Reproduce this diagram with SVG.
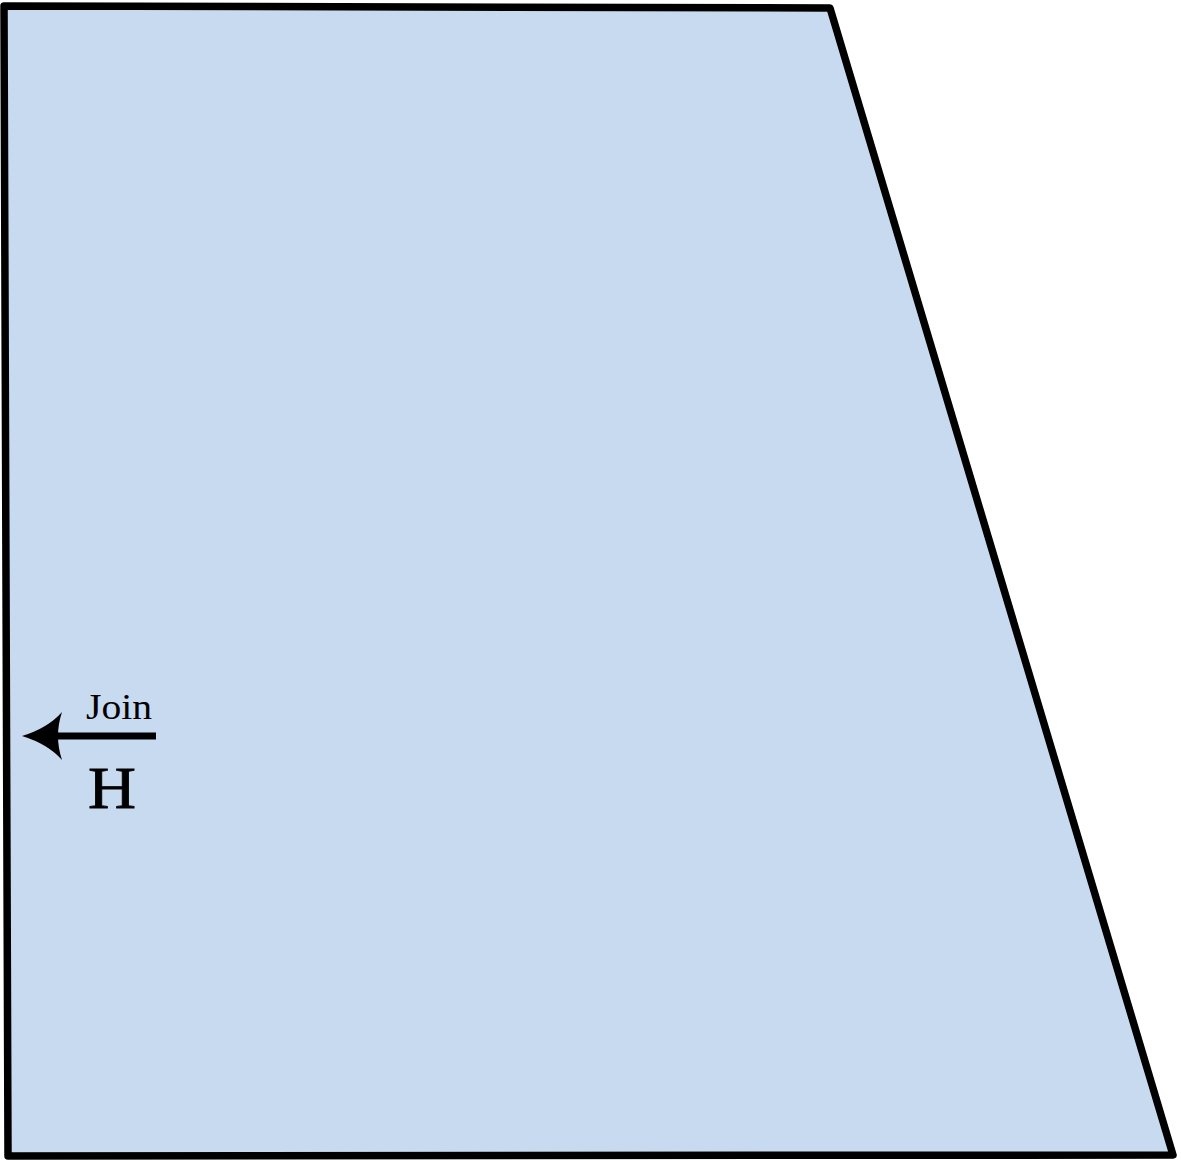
<svg xmlns="http://www.w3.org/2000/svg" width="1181" height="1162" viewBox="0 0 1181 1162">
<style>
.shape{fill:#c7daf0;stroke:#000;stroke-width:7.5;stroke-linejoin:round}
.lbl{font-family:"Liberation Serif","DejaVu Serif",serif;fill:#000;text-anchor:middle}
</style>
<g id="region">
<path class="shape" d="M4,6 L830,8 L1173,1155 L8,1156 Z"/>
</g>
<g id="connectors">
<line x1="156" y1="736" x2="45" y2="736" stroke="#000" stroke-width="7"/>
<path d="M22,736 Q48,728 62,712 Q54,736 62,760 Q48,744 22,736 Z" fill="#000"/>
</g>
<g id="labels">
<text class="lbl" x="119" y="719" font-size="36" textLength="66" lengthAdjust="spacingAndGlyphs">Join</text>
<text class="lbl" x="112" y="808" font-size="60" textLength="48" lengthAdjust="spacingAndGlyphs" stroke="#000" stroke-width="0.8">H</text>
</g>
</svg>
